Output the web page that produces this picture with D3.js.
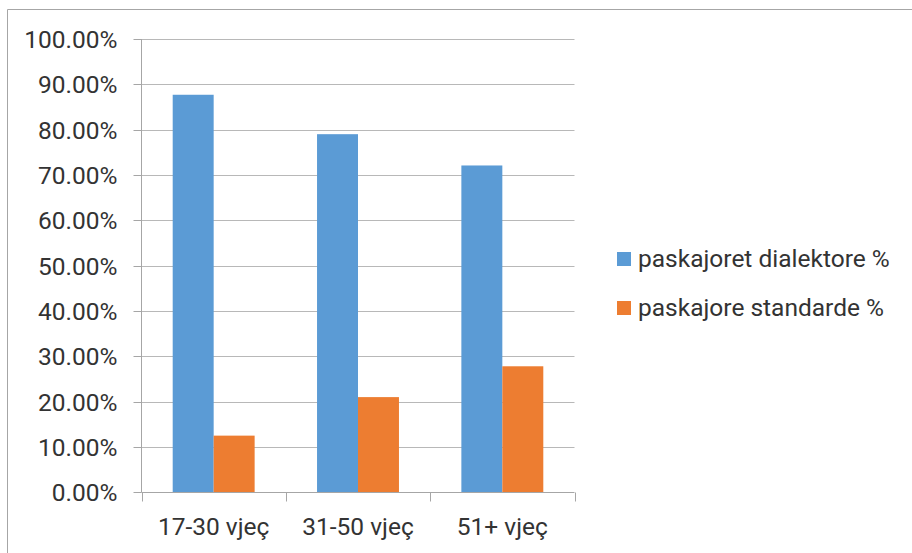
<!DOCTYPE html>
<html>
<head>
<meta charset="utf-8">
<script src="https://cdn.jsdelivr.net/npm/d3@7"></script>
<style>
  html, body { margin: 0; padding: 0; background: #fff; }
  svg { display: block; }
  text { font-family: Roboto, "Liberation Sans", sans-serif; fill: #333; }
</style>
</head>
<body>
<svg id="chart" width="912" height="553"></svg>
<script>
// Age groups and the share of each speaker type
const categories = ["17-30 vjeç", "31-50 vjeç", "51+ vjeç"];
const seriesNames = ["paskajoret dialektore %", "paskajore standarde %"];
const dialectValues = [0.877, 0.790, 0.721];
const standardValues = [0.125, 0.210, 0.278];
const seriesColors = ["#5b9bd5", "#ed7d31"];
const yTicks = [0, 0.1, 0.2, 0.3, 0.4, 0.5, 0.6, 0.7, 0.8, 0.9, 1.0];

const series = [dialectValues, standardValues];
const rows = categories.map((c, i) => ({
  cat: c,
  values: series.map((s, k) => ({ key: seriesNames[k], k, v: s[i] }))
}));

const fontSize = 24.5;
const svg = d3.select("#chart");

// outer frame
svg.append("path")
  .attr("d", "M7.5,560 L7.5,9.5 L920,9.5")
  .attr("fill", "none")
  .attr("stroke", "#a6a6a6")
  .attr("stroke-width", 1);

const plotLeft = 141.5, plotRight = 574.5, plotTop = 39, plotBottom = 492.3;

const x0 = d3.scaleBand().domain(categories).range([plotLeft, plotRight]).paddingInner(0).paddingOuter(0);
const y = d3.scaleLinear().domain([0, 1]).range([plotBottom, plotTop]);
const x1 = d3.scaleBand().domain([0, 1]).range([31.2, x0.bandwidth() - 31.2]);

// horizontal gridlines
svg.append("g")
  .selectAll("line")
  .data(yTicks.filter(t => t > 0))
  .join("line")
  .attr("x1", plotLeft).attr("x2", plotRight)
  .attr("y1", d => Math.round(y(d)) + 0.5).attr("y2", d => Math.round(y(d)) + 0.5)
  .attr("stroke", "#b8b8b8").attr("stroke-width", 1);

// y axis
const yAxis = d3.axisLeft(y)
  .tickValues(yTicks)
  .tickSize(8)
  .tickPadding(16)
  .tickFormat(d => (d * 100).toFixed(2) + "%");
const gy = svg.append("g").attr("transform", `translate(${plotLeft},0)`).call(yAxis);
gy.select(".domain").attr("stroke", "#a6a6a6").attr("d", `M0,${plotTop}V${plotBottom}`);
gy.selectAll(".tick line").attr("stroke", "#a6a6a6");
gy.selectAll(".tick").attr("transform", d => `translate(0,${Math.round(y(d)) + 0.5})`);
gy.selectAll(".tick text")
  .attr("font-size", fontSize)
  .attr("font-family", "Roboto, 'Liberation Sans', sans-serif")
  .attr("fill", "#333")
  .attr("dy", "0.36em");

// bars
const groups = svg.append("g")
  .selectAll("g")
  .data(rows)
  .join("g")
  .attr("transform", d => `translate(${x0(d.cat)},0)`);

groups.selectAll("rect")
  .data(d => d.values)
  .join("rect")
  .attr("x", d => x1(d.k))
  .attr("width", x1.bandwidth())
  .attr("y", d => y(d.v))
  .attr("height", d => plotBottom - y(d.v))
  .attr("fill", d => seriesColors[d.k]);

// x axis
const xAxis = d3.axisBottom(x0).tickSize(0).tickPadding(25);
const gx = svg.append("g").attr("transform", `translate(0,${Math.round(plotBottom) + 0.5})`).call(xAxis);
gx.select(".domain").attr("stroke", "#a6a6a6").attr("d", `M${plotLeft},0H${plotRight}`);
gx.selectAll(".tick text")
  .attr("font-size", fontSize)
  .attr("font-family", "Roboto, 'Liberation Sans', sans-serif")
  .attr("fill", "#333");
// category boundary ticks
gx.append("g")
  .selectAll("line")
  .data(d3.range(categories.length + 1))
  .join("line")
  .attr("x1", i => Math.round(plotLeft + i * x0.bandwidth()) + 0.5)
  .attr("x2", i => Math.round(plotLeft + i * x0.bandwidth()) + 0.5)
  .attr("y1", 0).attr("y2", 9)
  .attr("stroke", "#a6a6a6");

// legend
const legend = svg.append("g")
  .selectAll("g")
  .data(seriesNames)
  .join("g")
  .attr("transform", (d, i) => `translate(617,${252 + i * 49})`);
legend.append("rect")
  .attr("width", 14).attr("height", 14)
  .attr("fill", (d, i) => seriesColors[i]);
legend.append("text")
  .attr("x", 21).attr("y", 14.8)
  .attr("font-size", fontSize)
  .text(d => d);
</script>
</body>
</html>
